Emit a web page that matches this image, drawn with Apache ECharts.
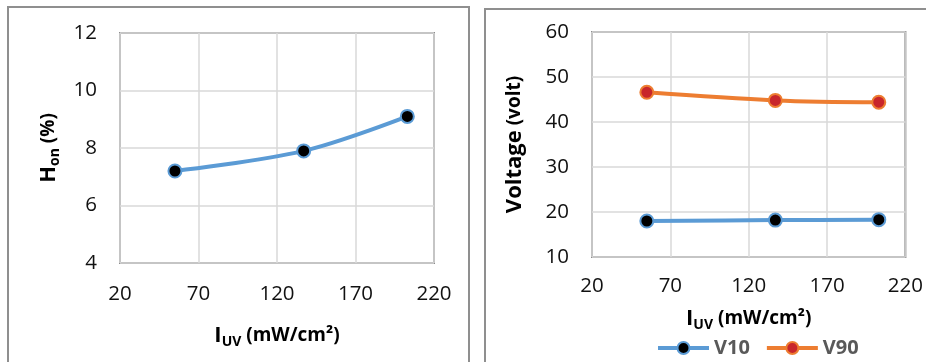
<!DOCTYPE html>
<html>
<head>
<meta charset="utf-8">
<script src="https://cdn.jsdelivr.net/npm/echarts@6/dist/echarts.min.js"></script>
<style>
  html, body { margin: 0; padding: 0; background: #fff; overflow: hidden; }
  .panel { position: absolute; box-sizing: border-box; border: 2px solid #8f8f8f; background: #fff; }
  #p1 { left: 7px; top: 6px; width: 463px; height: 420px; }
  #p2 { left: 484px; top: 8px; width: 520px; height: 420px; }
  #chart { position: absolute; left: 0; top: 0; width: 926px; height: 362px; }
</style>
</head>
<body>
<div class="panel" id="p1"></div>
<div class="panel" id="p2"></div>
<div id="chart"></div>
<script>
// ---- data ----
const iuv = [55, 137, 203];          // I_UV (mW/cm²)
const hon = [7.2, 7.9, 9.1];         // H_on (%)
const v10 = [18.0, 18.2, 18.3];      // V10 (volt)
const v90 = [46.6, 44.8, 44.4];      // V90 (volt)
const xTicks = [20, 70, 120, 170, 220];
const honTicks = [4, 6, 8, 10, 12];
const voltTicks = [10, 20, 30, 40, 50, 60];
const seriesNames = ['V10', 'V90'];

const pairs = (ys) => iuv.map((x, i) => [x, ys[i]]);

const FONT = '"Open Sans", sans-serif';
const BLUE = '#5B9BD5';
const ORANGE = '#ED7D31';
const RED = '#C8262B';
const GRIDC = '#D9D9D9';

const titleRich = {
  b: { fontFamily: FONT, fontSize: 22, fontWeight: 'bold', color: '#000' },
  s: { fontFamily: FONT, fontSize: 14, fontWeight: 'bold', color: '#000', padding: [12, 0, 0, 0] },
  p: { fontFamily: FONT, fontSize: 19, fontWeight: 'bold', color: '#000' }
};

function xAxisCfg(gridIndex, gap, labelMargin) {
  return {
    type: 'value', gridIndex, min: xTicks[0], max: xTicks[xTicks.length - 1],
    name: '{b|I}{s|UV}{p| (mW/cm²)}', nameLocation: 'middle', nameGap: gap,
    nameTextStyle: { rich: titleRich },
    axisLine: { show: false },
    axisTick: { show: false, customValues: xTicks },
    axisLabel: { customValues: xTicks, margin: labelMargin, fontFamily: FONT, fontSize: 20.5, color: '#111' },
    splitLine: { show: true, lineStyle: { color: GRIDC, width: 1.5 } }
  };
}

function yAxisCfg(gridIndex, ticks, name, gap) {
  return {
    type: 'value', gridIndex, min: ticks[0], max: ticks[ticks.length - 1],
    interval: ticks[1] - ticks[0],
    name, nameLocation: 'middle', nameGap: gap, nameRotate: 90,
    nameTextStyle: { rich: titleRich },
    axisLine: { show: false },
    axisTick: { show: false },
    axisLabel: { margin: 23, fontFamily: FONT, fontSize: 20.5, color: '#111' },
    splitLine: { show: true, lineStyle: { color: GRIDC, width: 1.5 } }
  };
}

function lineSeries(name, ys, xi, yi, lineColor, fill, border) {
  return {
    type: 'line', name, xAxisIndex: xi, yAxisIndex: yi,
    data: pairs(ys), smooth: 0.35,
    symbol: 'circle', symbolSize: 13,
    lineStyle: { color: lineColor, width: 4 },
    itemStyle: { color: fill, borderColor: border, borderWidth: 2 },
    z: 3
  };
}

const chart = echarts.init(document.getElementById('chart'), null, { renderer: 'canvas' });
chart.setOption({
  animation: false,
  backgroundColor: 'transparent',
  grid: [
    { left: 120, top: 33, width: 314, height: 230, show: true, borderColor: '#8c8c8c', borderWidth: 2, backgroundColor: 'transparent' },
    { left: 592, top: 32, width: 314, height: 225, show: true, borderColor: '#8c8c8c', borderWidth: 2, backgroundColor: 'transparent' }
  ],
  xAxis: [xAxisCfg(0, 60, 21), xAxisCfg(1, 49, 19)],
  yAxis: [
    yAxisCfg(0, honTicks, '{b|H}{s|on}{p| (%)}', 58),
    yAxisCfg(1, voltTicks, '{b|Voltage}{p| (volt)}', 66)
  ],
  legend: {
    data: seriesNames,
    left: 651, top: 333,
    itemWidth: 51, itemHeight: 15, itemGap: 15,
    lineStyle: { width: 4 },
    textStyle: { fontFamily: FONT, fontSize: 20, fontWeight: 'bold', color: '#595959' }
  },
  series: [
    lineSeries('H_on', hon, 0, 0, BLUE, '#000', BLUE),
    lineSeries(seriesNames[0], v10, 1, 1, BLUE, '#000', BLUE),
    lineSeries(seriesNames[1], v90, 1, 1, ORANGE, RED, ORANGE)
  ]
});
</script>
</body>
</html>
